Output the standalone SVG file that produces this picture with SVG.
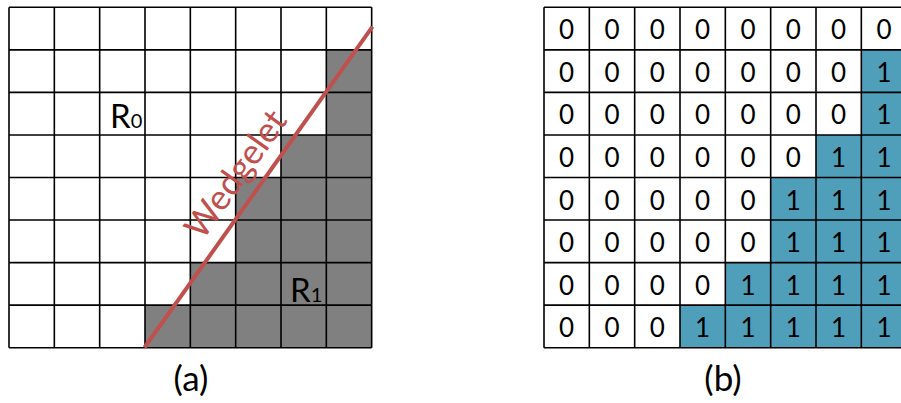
<svg xmlns="http://www.w3.org/2000/svg" width="901" height="403" viewBox="0 0 901 403">
<style>
.bg{fill:#fff}
.gray{fill:#808080}
.blue{fill:#4F9FBA}
.grid{fill:none;stroke:#000;stroke-width:1.6}
.d{font-family:Lato,"Liberation Sans",sans-serif;font-size:26px;text-anchor:middle;fill:#000}
.lbl{font-family:Lato,"Liberation Sans",sans-serif;font-size:33px;fill:#000}
.sub{font-size:20px}
.cap{font-family:Lato,"Liberation Sans",sans-serif;font-size:35px;text-anchor:middle;fill:#000}
.wl{stroke:#C0504D;stroke-width:4;fill:none}
.wt{font-family:Lato,"Liberation Sans",sans-serif;font-size:35px;fill:#C0504D}
</style>
<rect class="bg" x="0" y="0" width="901" height="403"/>
<g id="gridA">
  <rect class="gray" x="145" y="305.15" width="45.33" height="42.55"/>
  <rect class="gray" x="190.33" y="262.6" width="45.34" height="85.1"/>
  <rect class="gray" x="235.67" y="177.5" width="45.33" height="170.2"/>
  <rect class="gray" x="281" y="134.95" width="45.33" height="212.75"/>
  <rect class="gray" x="326.33" y="49.85" width="45.34" height="297.85"/>
  <path class="grid" d="M9,7.3V347.7M54.33,7.3V347.7M99.67,7.3V347.7M145,7.3V347.7M190.33,7.3V347.7M235.67,7.3V347.7M281,7.3V347.7M326.33,7.3V347.7M371.67,7.3V347.7M9,7.3H371.67M9,49.85H371.67M9,92.4H371.67M9,134.95H371.67M9,177.5H371.67M9,220.05H371.67M9,262.6H371.67M9,305.15H371.67M9,347.7H371.67"/>
  <text class="lbl" x="110" y="128.3">R<tspan class="sub">0</tspan></text>
  <text class="lbl" x="290" y="301.7">R<tspan class="sub">1</tspan></text>
</g>
<g id="wedgelet">
  <line class="wl" x1="144.5" y1="347.5" x2="372.5" y2="26.7"/>
  <text class="wt" transform="translate(202.5,241.3) rotate(-54.5)" x="0" y="0">Wedgelet</text>
</g>
<g id="gridB">
  <rect class="blue" x="680" y="305.15" width="45.33" height="42.55"/>
  <rect class="blue" x="725.33" y="262.6" width="45.34" height="85.1"/>
  <rect class="blue" x="770.67" y="177.5" width="45.33" height="170.2"/>
  <rect class="blue" x="816" y="134.95" width="45.33" height="212.75"/>
  <rect class="blue" x="861.33" y="49.85" width="45.34" height="297.85"/>
  <path class="grid" d="M544,7.3V347.7M589.33,7.3V347.7M634.67,7.3V347.7M680,7.3V347.7M725.33,7.3V347.7M770.67,7.3V347.7M816,7.3V347.7M861.33,7.3V347.7M906.67,7.3V347.7M544,7.3H906.67M544,49.85H906.67M544,92.4H906.67M544,134.95H906.67M544,177.5H906.67M544,220.05H906.67M544,262.6H906.67M544,305.15H906.67M544,347.7H906.67"/>
  <text class="d" y="39.3"><tspan x="566.67">0</tspan><tspan x="612">0</tspan><tspan x="657.33">0</tspan><tspan x="702.67">0</tspan><tspan x="748">0</tspan><tspan x="793.33">0</tspan><tspan x="838.67">0</tspan><tspan x="884">0</tspan></text>
  <text class="d" y="81.85"><tspan x="566.67">0</tspan><tspan x="612">0</tspan><tspan x="657.33">0</tspan><tspan x="702.67">0</tspan><tspan x="748">0</tspan><tspan x="793.33">0</tspan><tspan x="838.67">0</tspan><tspan x="884">1</tspan></text>
  <text class="d" y="124.4"><tspan x="566.67">0</tspan><tspan x="612">0</tspan><tspan x="657.33">0</tspan><tspan x="702.67">0</tspan><tspan x="748">0</tspan><tspan x="793.33">0</tspan><tspan x="838.67">0</tspan><tspan x="884">1</tspan></text>
  <text class="d" y="166.95"><tspan x="566.67">0</tspan><tspan x="612">0</tspan><tspan x="657.33">0</tspan><tspan x="702.67">0</tspan><tspan x="748">0</tspan><tspan x="793.33">0</tspan><tspan x="838.67">1</tspan><tspan x="884">1</tspan></text>
  <text class="d" y="209.5"><tspan x="566.67">0</tspan><tspan x="612">0</tspan><tspan x="657.33">0</tspan><tspan x="702.67">0</tspan><tspan x="748">0</tspan><tspan x="793.33">1</tspan><tspan x="838.67">1</tspan><tspan x="884">1</tspan></text>
  <text class="d" y="252.05"><tspan x="566.67">0</tspan><tspan x="612">0</tspan><tspan x="657.33">0</tspan><tspan x="702.67">0</tspan><tspan x="748">0</tspan><tspan x="793.33">1</tspan><tspan x="838.67">1</tspan><tspan x="884">1</tspan></text>
  <text class="d" y="294.6"><tspan x="566.67">0</tspan><tspan x="612">0</tspan><tspan x="657.33">0</tspan><tspan x="702.67">0</tspan><tspan x="748">1</tspan><tspan x="793.33">1</tspan><tspan x="838.67">1</tspan><tspan x="884">1</tspan></text>
  <text class="d" y="337.15"><tspan x="566.67">0</tspan><tspan x="612">0</tspan><tspan x="657.33">0</tspan><tspan x="702.67">1</tspan><tspan x="748">1</tspan><tspan x="793.33">1</tspan><tspan x="838.67">1</tspan><tspan x="884">1</tspan></text>
</g>
<g id="captions">
  <text class="cap" x="191" y="391">(a)</text>
  <text class="cap" x="723" y="391">(b)</text>
</g>
</svg>
